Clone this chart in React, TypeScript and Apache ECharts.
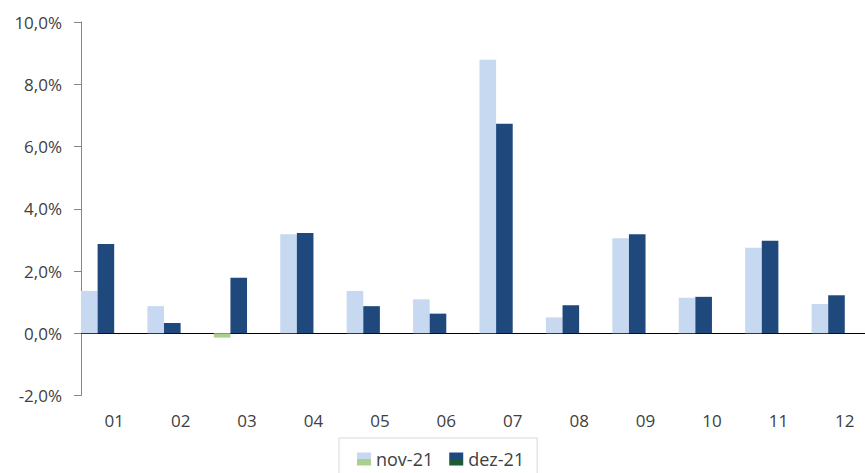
import React, { useEffect, useRef } from "react";
import * as echarts from "echarts";

const categories = ["01", "02", "03", "04", "05", "06", "07", "08", "09", "10", "11", "12"];
const nov21 = [1.36, 0.87, -0.14, 3.18, 1.36, 1.09, 8.79, 0.51, 3.05, 1.14, 2.75, 0.94];
const dez21 = [2.87, 0.33, 1.78, 3.22, 0.87, 0.63, 6.73, 0.9, 3.18, 1.17, 2.97, 1.22];
const seriesNames = ["nov-21", "dez-21"];

const NOV_COLOR = "#c6d9f1";
const DEZ_COLOR = "#1f497d";
const NOV_NEG = "#a9d18e";
const DEZ_NEG = "#1e5b32";
const TEXT = "#404040";
const FONT = "Open Sans";

function splitGradient(top: string, bottom: string) {
  return new echarts.graphic.LinearGradient(0, 0, 0, 1, [
    { offset: 0, color: top },
    { offset: 0.5, color: top },
    { offset: 0.5, color: bottom },
    { offset: 1, color: bottom },
  ]);
}

export default function App() {
  const ref = useRef<HTMLDivElement>(null);
  useEffect(() => {
    if (!ref.current) return;
    const chart = echarts.init(ref.current, undefined, { renderer: "svg" });
    const mk = (vals: number[], pos: string, neg: string) =>
      vals.map((v) => ({ value: v, itemStyle: { color: v < 0 ? neg : pos } }));
    const empty = categories.map(() => "-");
    chart.setOption({
      animation: false,
      textStyle: { fontFamily: FONT },
      grid: { left: 81, top: 22, width: 797, height: 373.5, containLabel: false },
      legend: {
        left: 339,
        top: 438,
        padding: [12, 13, 30, 18],
        itemWidth: 14,
        itemHeight: 13,
        itemGap: 16,
        borderColor: "#d9d9d9",
        borderWidth: 1,
        textStyle: { color: TEXT, fontSize: 18, fontFamily: FONT },
        data: [
          { name: seriesNames[0], icon: "rect", itemStyle: { color: splitGradient(NOV_COLOR, NOV_NEG) } },
          { name: seriesNames[1], icon: "rect", itemStyle: { color: splitGradient(DEZ_COLOR, DEZ_NEG) } },
        ],
      },
      xAxis: [
        {
          type: "category",
          data: categories,
          position: "bottom",
          axisLine: { show: true, onZero: true, lineStyle: { color: "#000000", width: 1 } },
          axisTick: { show: false },
          axisLabel: { show: false },
          splitLine: { show: false },
        },
        {
          type: "category",
          data: categories,
          position: "bottom",
          axisLine: { show: false, onZero: false },
          axisTick: { show: false },
          axisLabel: { show: true, color: TEXT, fontSize: 17, fontFamily: FONT, margin: 16 },
          splitLine: { show: false },
        },
      ],
      yAxis: {
        type: "value",
        min: -2,
        max: 10,
        interval: 2,
        axisLine: { show: true, lineStyle: { color: "#868686", width: 1 } },
        axisTick: { show: true, length: 7, lineStyle: { color: "#868686" } },
        splitLine: { show: false },
        axisLabel: {
          color: TEXT,
          fontSize: 17,
          fontFamily: FONT,
          margin: 19,
          formatter: (v: number) => v.toFixed(1).replace(".", ",") + "%",
        },
      },
      series: [
        {
          name: seriesNames[0],
          type: "bar",
          xAxisIndex: 0,
          data: mk(nov21, NOV_COLOR, NOV_NEG),
          itemStyle: { color: NOV_COLOR },
          barGap: "0%",
          barCategoryGap: "0%",
        },
        {
          name: seriesNames[1],
          type: "bar",
          xAxisIndex: 0,
          data: mk(dez21, DEZ_COLOR, DEZ_NEG),
          itemStyle: { color: DEZ_COLOR },
          barGap: "0%",
          barCategoryGap: "0%",
        },
        { name: "_e1", type: "bar", xAxisIndex: 0, data: empty, barGap: "0%", barCategoryGap: "0%" },
        { name: "_e2", type: "bar", xAxisIndex: 0, data: empty, barGap: "0%", barCategoryGap: "0%" },
      ],
    });
    return () => chart.dispose();
  }, []);
  return (
    <div style={{ position: "absolute", left: 0, top: 0, width: 865, height: 473, overflow: "hidden" }}>
      <div ref={ref} style={{ width: 900, height: 473 }} />
    </div>
  );
}
